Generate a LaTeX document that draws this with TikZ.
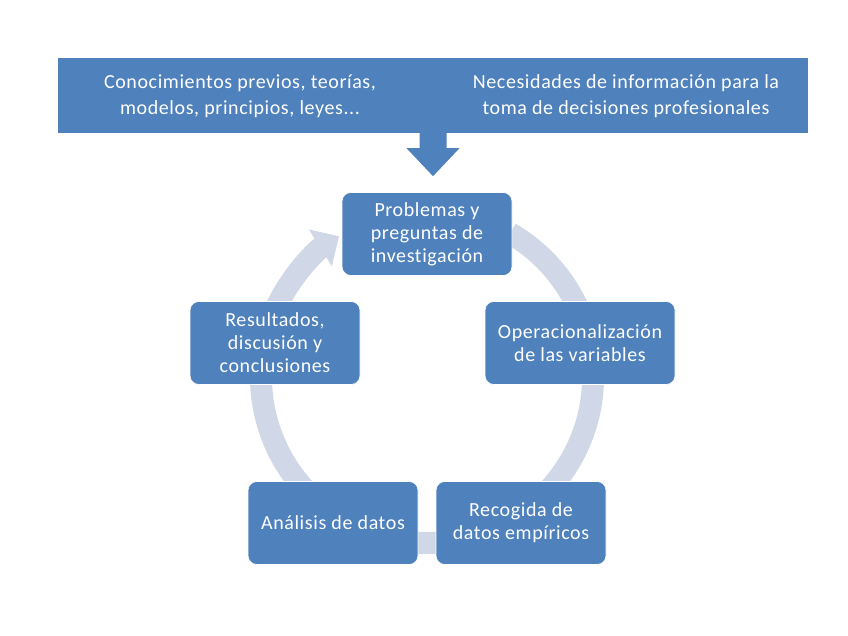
\documentclass[tikz,border=0pt]{standalone}
\usepackage{fontspec}
\setmainfont{Carlito}[LetterSpace=3,Ligatures=NoCommon]
\usetikzlibrary{arrows.meta,positioning}
\definecolor{boxblue}{RGB}{79,129,189}
\definecolor{ringblue}{RGB}{208,216,232}

\begin{document}
\begin{tikzpicture}[x=1pt,y=1pt,
    stage/.style={draw=white,line width=0.6pt,fill=boxblue,rounded corners=9pt,
      minimum width=170pt,minimum height=83pt,text=white,align=center,
      inner sep=2pt,font=\fontsize{20}{23}\selectfont},
    bannertext/.style={text=white,align=center,font=\fontsize{20}{26}\selectfont},
    ring/.style={ringblue,line width=22pt,-{Triangle[length=22pt,width=42pt]}}]
  \useasboundingbox (0,0) rectangle (848,636);
  % top banner
  \node[fill=boxblue,minimum width=750pt,minimum height=75pt,inner sep=0pt] (banner) at (433,540.5) {};
  \node[bannertext] (theory) at (240,540) {Conocimientos previos, teorías,\\modelos, principios, leyes...};
  \node[bannertext] (needs) at (626,540) {Necesidades de información para la\\toma de decisiones profesionales};
  \fill[boxblue] ([xshift=-13.5pt]banner.south) -- ++(0,-15) -- ++(-13,0) -- ++(26.5,-28)
    -- ++(26.5,28) -- ++(-13,0) -- ++(0,15) -- cycle;
  % cycle
  \coordinate (hub) at (427,259);
  \draw[ring] (hub) ++(60:166) arc[start angle=60,end angle=-238,radius=166];
  \node[stage] (problem) at (427,402) {Problemas y\\preguntas de\\investigación};
  \node[stage,minimum width=190pt] (oper) at (580,293) {Operacionalización\\de las variables};
  \node[stage] (collect) at (521,113) {Recogida de\\datos empíricos};
  \node[stage] (analysis) at (333,113) {Análisis de datos};
  \node[stage] (results) at (275,293) {Resultados,\\discusión y\\conclusiones};
\end{tikzpicture}
\end{document}
